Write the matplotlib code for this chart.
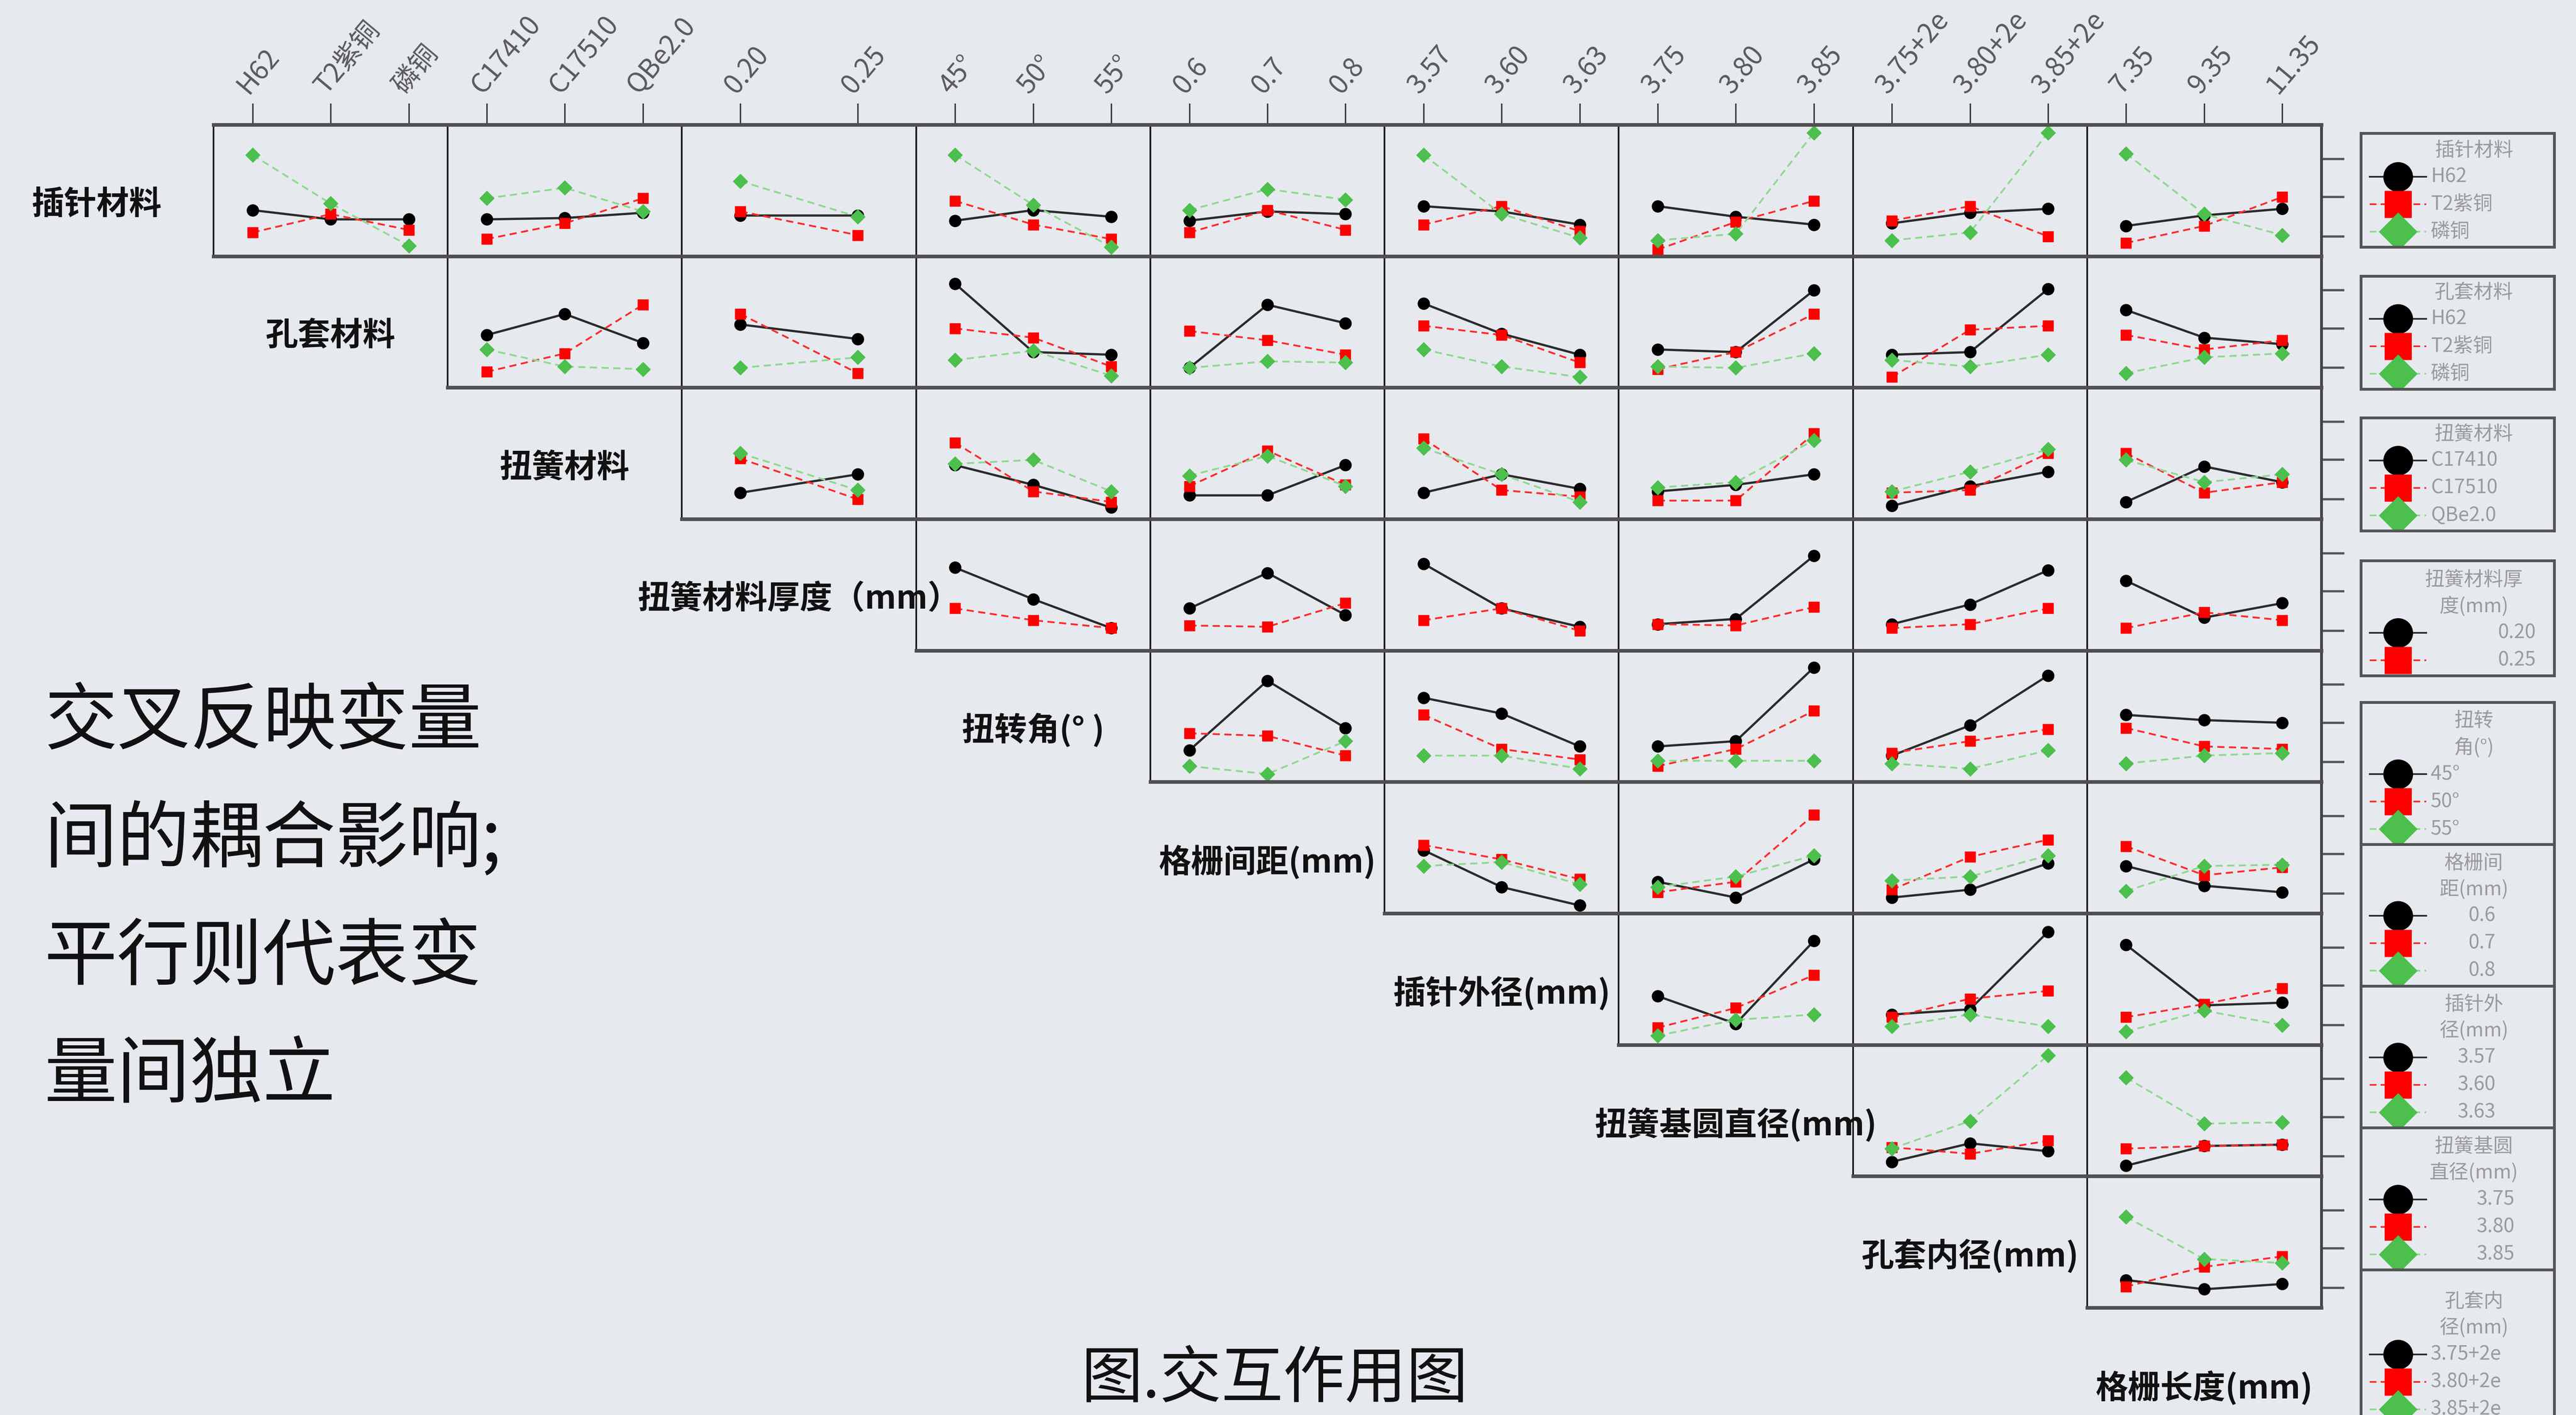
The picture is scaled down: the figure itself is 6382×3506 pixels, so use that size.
import matplotlib.pyplot as plt

plt.rcParams['font.family'] = ['Noto Sans CJK SC', 'DejaVu Sans']

# 因子与水平
factors = ['插针材料', '孔套材料', '扭簧材料', '扭簧材料厚度（mm）', '扭转角(° )',
           '格栅间距(mm)', '插针外径(mm)', '扭簧基圆直径(mm)', '孔套内径(mm)', '格栅长度(mm)']
levels = [
    ['H62', 'T2紫铜', '磷铜'],
    ['H62', 'T2紫铜', '磷铜'],
    ['C17410', 'C17510', 'QBe2.0'],
    ['0.20', '0.25'],
    ['45°', '50°', '55°'],
    ['0.6', '0.7', '0.8'],
    ['3.57', '3.60', '3.63'],
    ['3.75', '3.80', '3.85'],
    ['3.75+2e', '3.80+2e', '3.85+2e'],
    ['7.35', '9.35', '11.35'],
]
legend_titles = ['插针材料', '孔套材料', '扭簧材料', '扭簧材料厚\n度(mm)', '扭转\n角(°)',
                 '格栅间\n距(mm)', '插针外\n径(mm)', '扭簧基圆\n直径(mm)', '孔套内\n径(mm)']

# 每行一个因子, 每个子图按列因子排列, 每条线对应行因子的一个水平 (响应均值)
y_pin_mat = [
    [[35, 28, 28], [18, 32, 20], [77, 40, 8]],
    [[28, 29, 33], [13, 25, 44], [44, 52, 34]],
    [[31, 31], [34, 16], [57, 30]],
    [[27, 35, 30], [42, 24, 13], [77, 39, 7]],
    [[27, 34, 32], [18, 35, 20], [35, 51, 43]],
    [[38, 34, 24], [24, 38, 19], [77, 32, 14]],
    [[38, 30, 24], [5, 26, 42], [12, 17, 94]],
    [[25, 33, 36], [27, 38, 15], [12, 18, 94]],
    [[23, 31, 36], [10, 23, 45], [78, 32, 16]],
]
y_sleeve_mat = [
    [[40, 56, 34], [12, 26, 63], [29, 16, 14]],
    [[48, 37], [56, 11], [15, 23]],
    [[79, 27, 25], [45, 38, 16], [21, 28, 9]],
    [[15, 63, 49], [43, 36, 25], [15, 20, 19]],
    [[64, 41, 25], [47, 40, 19], [29, 16, 8]],
    [[29, 27, 74], [14, 27, 56], [16, 15, 26]],
    [[25, 27, 75], [8, 44, 47], [21, 16, 25]],
    [[59, 38, 33], [40, 29, 36], [11, 23, 26]],
]
y_spring_mat = [
    [[20, 34], [46, 15], [50, 22]],
    [[41, 26, 9], [58, 21, 13], [42, 45, 21]],
    [[18, 18, 41], [25, 52, 26], [33, 48, 25]],
    [[20, 34, 23], [61, 22, 17], [54, 34, 13]],
    [[21, 26, 34], [14, 14, 65], [24, 28, 60]],
    [[10, 25, 36], [20, 22, 50], [21, 36, 53]],
    [[13, 40, 28], [50, 20, 28], [45, 28, 34]],
]
y_spring_thk = [
    [[63, 39, 17], [32, 23, 17]],
    [[32, 59, 27], [19, 18, 36]],
    [[66, 32, 18], [23, 32, 15]],
    [[20, 24, 72], [20, 19, 33]],
    [[20, 35, 61], [17, 20, 32]],
    [[53, 25, 36], [17, 29, 23]],
]
y_twist = [
    [[24, 77, 41], [37, 35, 20], [12, 6, 31]],
    [[64, 52, 27], [51, 25, 17], [20, 20, 10]],
    [[27, 31, 87], [12, 25, 54], [16, 16, 16]],
    [[20, 43, 81], [22, 31, 40], [14, 10, 24]],
    [[51, 47, 45], [41, 27, 25], [14, 20, 22]],
]
y_grid_gap = [
    [[48, 20, 6], [52, 41, 26], [36, 39, 22]],
    [[24, 12, 41], [16, 24, 75], [20, 28, 44]],
    [[12, 18, 38], [18, 43, 56], [25, 28, 44]],
    [[36, 21, 16], [51, 29, 35], [17, 36, 37]],
]
y_pin_od = [
    [[37, 16, 79], [13, 28, 53], [7, 19, 23]],
    [[23, 27, 86], [21, 35, 41], [14, 23, 14]],
    [[76, 30, 32], [21, 31, 43], [10, 26, 15]],
]
y_spring_dia = [
    [[11, 25, 19], [22, 17, 27], [21, 42, 92]],
    [[8, 23, 24], [21, 23, 24], [75, 40, 41]],
]
y_sleeve_id = [
    [[21, 14, 18], [16, 31, 39], [69, 37, 34]],
]
rows_data = [y_pin_mat, y_sleeve_mat, y_spring_mat, y_spring_thk, y_twist,
             y_grid_gap, y_pin_od, y_spring_dia, y_sleeve_id]

styles = [
    dict(color='#2b2b2b', lw=4, ls='-', marker='o', ms=21, mfc='black', mec='black'),
    dict(color='#ff2a2a', lw=3.2, ls=(0, (4, 2.5)), marker='s', ms=19, mfc='#ff0000', mec='#ff0000'),
    dict(color='#8fd88f', lw=3.2, ls=(0, (4, 2.5)), marker='D', ms=18, mfc='#4cbf4c', mec='#4cbf4c'),
]

BG = '#e6eaef'
W, H = 6382, 3506
X0, Y0 = 529, 309
CW, RH = (5751 - 529) / 9, (3240 - 309) / 9


def box(x, y, w, h):
    return [x / W, 1 - (y + h) / H, w / W, h / H]


fig = plt.figure(figsize=(W / 100, H / 100), dpi=100, facecolor=BG)

# 交互作用矩阵
for i, row in enumerate(rows_data):
    for k, panel in enumerate(row):
        j = i + 1 + k
        c = j - 1
        ax = fig.add_axes(box(X0 + c * CW, Y0 + i * RH, CW, RH))
        ax.set_facecolor('none')
        n = len(levels[j])
        xs = list(range(1, n + 1))
        for s, ys in enumerate(panel):
            ax.plot(xs, ys, **styles[s])
        ax.set_xlim(0.5, n + 0.5)
        ax.set_ylim(0, 100)
        for side in ['top', 'bottom']:
            ax.spines[side].set_linewidth(6.5)
            ax.spines[side].set_color('#505050')
        for side in ['left', 'right']:
            ax.spines[side].set_linewidth(3)
            ax.spines[side].set_color('#1a1a1a')
        if i == 0:
            ax.xaxis.tick_top()
            ax.set_xticks(xs)
            ax.set_xticklabels(levels[j], rotation=50, ha='left', va='bottom',
                               rotation_mode='anchor', fontsize=48, color='#5a5a5a')
            ax.tick_params(axis='x', direction='out', length=38, width=2.5,
                           color='#333333', pad=8)
        else:
            ax.set_xticks([])
        if j == 9:
            ax.yaxis.tick_right()
            ax.set_yticks([15, 45, 74])
            ax.set_yticklabels([])
            ax.tick_params(axis='y', direction='out', length=41, width=4, color='#555555')
            ax.spines['right'].set_linewidth(5)
            ax.spines['right'].set_color('#444444')
        else:
            ax.set_yticks([])

# 对角线位置的因子名称
for k, name in enumerate(factors):
    cx = X0 + (k - 1) * CW + CW / 2
    cy = Y0 + k * RH + RH / 2 + 36
    fig.text(cx / W, 1 - cy / H, name, ha='center', va='center',
             fontsize=58, fontweight='bold', color='#111111')

# 右侧图例
legend_boxes = [(330, 612), (684, 964), (1035, 1315), (1389, 1674), (1740, 2092),
                (2092, 2443), (2443, 2794), (2794, 3146), (3146, 3530)]
legend_label_x = [173, 173, 173, 434, 173, 334, 334, 381, 173]
for i, (top, bottom) in enumerate(legend_boxes):
    h = bottom - top
    lax = fig.add_axes(box(5849, top, 479, h))
    lax.set_facecolor('none')
    lax.set_xlim(0, 479)
    lax.set_ylim(h, 0)
    lax.set_xticks([])
    lax.set_yticks([])
    for sp in lax.spines.values():
        sp.set_linewidth(5)
        sp.set_color('#555555')
    n = len(levels[i])
    ey = [h - 38 - (n - 1 - m) * 68 for m in range(n)]
    for m in range(n):
        st = styles[m]
        lax.plot([22, 162], [ey[m], ey[m]], color=st['color'], lw=3, ls=st['ls'])
        lax.plot([92], [ey[m]], ls='none', marker=st['marker'],
                 ms=52 if m == 0 else 48, mfc=st['mfc'], mec=st['mec'])
        lx = legend_label_x[i]
        lax.text(lx, ey[m], levels[i][m], ha='left' if lx < 200 else 'right',
                 va='center', fontsize=35, color='#9a9a9a')
    lax.text(280, ey[0] - 40, legend_titles[i], ha='center', va='bottom',
             fontsize=35, color='#9a9a9a', linespacing=1.4)

# 左侧说明与图题
notes = ['交叉反映变量', '间的耦合影响;', '平行则代表变', '量间独立']
for m, line in enumerate(notes):
    fig.text(110 / W, 1 - (1791 + m * 292) / H, line, ha='left', va='center',
             fontsize=130, color='#111111')
fig.text(3158 / W, 1 - 3419 / H, '图.交互作用图', ha='center', va='center',
         fontsize=110, color='#111111')

fig.savefig('out.png', dpi=100, facecolor=BG)
